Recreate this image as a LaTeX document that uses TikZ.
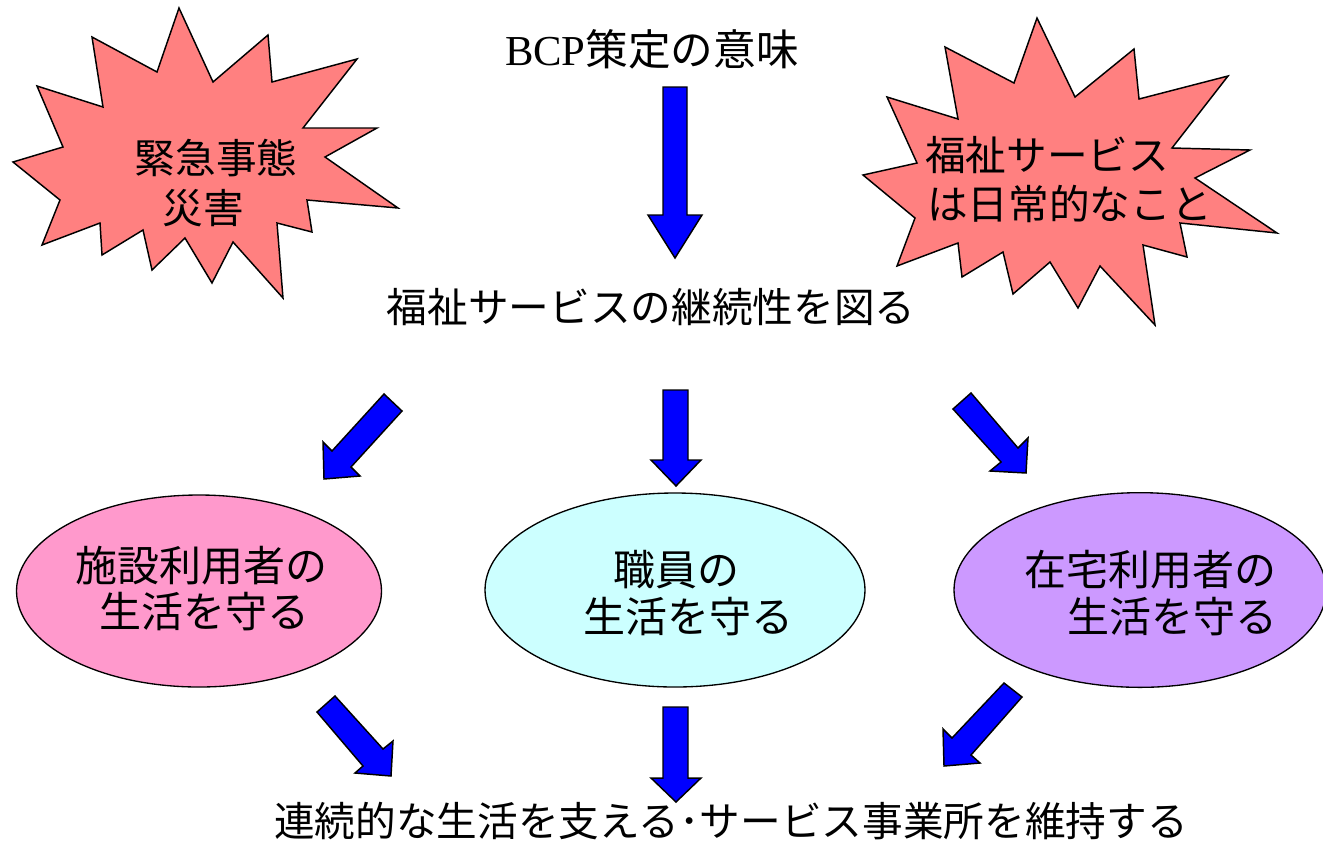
\documentclass[tikz,border=0pt]{standalone}
\usepackage{fontspec}
\setmainfont{Noto Sans CJK JP}
\newfontfamily\latinserif{Liberation Serif}
\usetikzlibrary{shapes.geometric}
\definecolor{burstred}{HTML}{FF8080}
\definecolor{arrowblue}{HTML}{0000FF}
\definecolor{ellpink}{HTML}{FF99CC}
\definecolor{ellcyan}{HTML}{CCFFFF}
\definecolor{ellviolet}{HTML}{CC99FF}
\tikzset{
  burst/.style={draw=black, line width=1.1pt, fill=burstred, line join=miter},
  barrow/.style={draw=black, line width=1.1pt, fill=arrowblue, line join=miter},
  ell/.style={ellipse, draw=black, line width=1pt, inner sep=0pt},
  txt/.style={inner sep=0pt, font=\fontsize{30.5pt}{36pt}\selectfont},
  etxt/.style={inner sep=0pt, font=\fontsize{31.5pt}{38pt}\selectfont},
  ttl/.style={inner sep=0pt, font=\fontsize{32pt}{38pt}\selectfont}
}
\begin{document}
\begin{tikzpicture}[x=0.75pt, y=-0.75pt]
\useasboundingbox (0,0) rectangle (1323,840);
\fill[white] (0,0) rectangle (1323,840);

% starburst left
\draw[burst] (179,8) -- (213,82) -- (268,35) -- (272,82) -- (357,59) -- (303,128) -- (377,128) -- (325,157) -- (398,208) -- (307,200) -- (312,232) -- (277,223) -- (283,298) -- (233,242) -- (212,283) -- (185,238) -- (152,270) -- (143,230) -- (102,255) -- (100,223) -- (42,245) -- (60,200) -- (13,162) -- (63,147) -- (37,86) -- (103,107) -- (92,37) -- (157,72) -- cycle;
\node[txt] (s1a) at (216,158) {緊急事態};
\node[txt] (s1b) at (203,208) {災害};

% starburst right
\draw[burst] (1037,18) -- (1075,97) -- (1134,49) -- (1139,99) -- (1228,76) -- (1172,148) -- (1250,150) -- (1195,178) -- (1277,233) -- (1180,223) -- (1187,257) -- (1143,245) -- (1155,325) -- (1100,266) -- (1078,308) -- (1050,262) -- (1013,294) -- (1003,252) -- (962,277) -- (958,243) -- (897,266) -- (915,218) -- (863,175) -- (917,163) -- (887,97) -- (958,119) -- (945,47) -- (1014,83) -- cycle;
\node[txt, anchor=west] (s2a) at (925,155) {福祉サービス};
\node[txt, anchor=west] (s2b) at (927,204) {は日常的なこと};

% title and main statement
\node[ttl] (title) at (652,49) {{\latinserif BCP}策定の意味};
\node[txt] (main) at (651,307) {福祉サービスの継続性を図る};

% top arrow
\draw[barrow] (663,87) -- (687,87) -- (687,215) -- (702,215) -- (675,258) -- (648,215) -- (663,215) -- cycle;

% middle arrows
\draw[barrow] (384,394) -- (402,411) -- (351,467) -- (360,476) -- (324,479) -- (323,442) -- (332,451) -- cycle;
\draw[barrow] (663,390) -- (688,390) -- (688,460) -- (701,460) -- (676,486) -- (651,460) -- (663,460) -- cycle;
\draw[barrow] (971,393) -- (1018,448) -- (1028,438) -- (1026,473) -- (990,471) -- (1001,462) -- (953,409) -- cycle;

% ellipses
\node[ell, fill=ellpink, minimum width=273.75pt, minimum height=144pt] (e1) at (199,591) {};
\node[etxt] (e1a) at (201,566) {施設利用者の};
\node[etxt] (e1b) at (204,612) {生活を守る};

\node[ell, fill=ellcyan, minimum width=285pt, minimum height=145.5pt] (e2) at (675,590) {};
\node[etxt] (e2a) at (676,570) {職員の};
\node[etxt] (e2b) at (688,617) {生活を守る};

\node[ell, fill=ellviolet, minimum width=279pt, minimum height=146pt] (e3) at (1140,590) {};
\node[etxt] (e3a) at (1150,570) {在宅利用者の};
\node[etxt] (e3b) at (1172,617) {生活を守る};

% bottom arrows
\draw[barrow] (335,696) -- (383,749) -- (393,741) -- (391,776) -- (355,773) -- (363,766) -- (317,712) -- cycle;
\draw[barrow] (663,707) -- (688,707) -- (688,778) -- (701,778) -- (676,802) -- (651,778) -- (663,778) -- cycle;
\draw[barrow] (1004,683) -- (1022,697) -- (971,755) -- (980,763) -- (944,766) -- (943,729) -- (952,738) -- cycle;

% bottom statement
\node[txt] (bottom) at (731,821) {連続的な生活を支える･サービス事業所を維持する};
\end{tikzpicture}
\end{document}
